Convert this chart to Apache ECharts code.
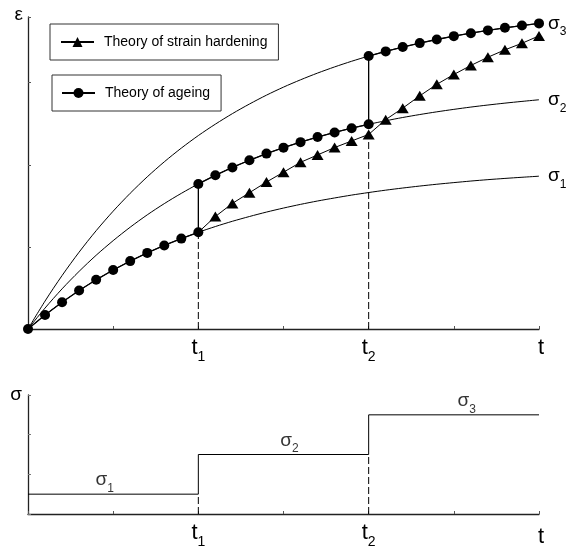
<!DOCTYPE html>
<html>
<head>
<meta charset="utf-8">
<script src="https://cdn.jsdelivr.net/npm/echarts@6/dist/echarts.min.js"></script>
<style>
  html, body { margin: 0; padding: 0; background: #fff; }
  #chart { width: 570px; height: 546px; }
</style>
</head>
<body>
<div id="chart"></div>
<script>
// Time samples along the t axis (t1 = 2, t2 = 4, end = 6)
const times = [0.0, 0.2, 0.4, 0.6, 0.8, 1.0, 1.2, 1.4, 1.6, 1.8, 2.0,
               2.2, 2.4, 2.6, 2.8, 3.0, 3.2, 3.4, 3.6, 3.8, 4.0,
               4.2, 4.4, 4.6, 4.8, 5.0, 5.2, 5.4, 5.6, 5.8, 6.0];

// Creep curves ε(t) at constant stress σ1, σ2, σ3
const creepSigma1 = [0, 0.170, 0.326, 0.468, 0.599, 0.718, 0.827, 0.927, 1.018, 1.101, 1.178,
                     1.248, 1.312, 1.370, 1.424, 1.473, 1.518, 1.559, 1.596, 1.631, 1.662,
                     1.691, 1.717, 1.741, 1.763, 1.783, 1.802, 1.819, 1.834, 1.848, 1.861];
const creepSigma2 = [0, 0.255, 0.489, 0.702, 0.898, 1.076, 1.240, 1.390, 1.527, 1.652, 1.767,
                     1.872, 1.968, 2.055, 2.136, 2.209, 2.276, 2.338, 2.394, 2.446, 2.493,
                     2.536, 2.576, 2.612, 2.645, 2.675, 2.703, 2.728, 2.751, 2.772, 2.792];
const creepSigma3 = [0, 0.340, 0.651, 0.936, 1.197, 1.435, 1.653, 1.853, 2.036, 2.203, 2.356,
                     2.495, 2.623, 2.740, 2.848, 2.946, 3.035, 3.117, 3.192, 3.261, 3.324,
                     3.381, 3.434, 3.482, 3.526, 3.567, 3.603, 3.637, 3.668, 3.696, 3.722];

// Strain-hardening prediction from t1 to the end (t = 2.0 ... 6.0)
const strainHardening = [1.178, 1.37, 1.53, 1.66, 1.79, 1.91, 2.03, 2.12, 2.21, 2.29, 2.37,
                         2.55, 2.69, 2.84, 2.98, 3.10, 3.21, 3.31, 3.40, 3.48, 3.57];

// Stepwise stress history
const t1 = 2.0, t2 = 4.0;
const stepTimes = [0, 2, 4, 6];
const stressLevels = [1, 3, 5, 5];

// Tick labels of the t axes
const tickMain = ['', '', 't', '', 't', '', 't'];
const tickSub  = ['', '', '1', '', '2', '', ''];

const FONT = 'Liberation Sans, Arial, sans-serif';
const INK = '#000';

const i1 = times.indexOf(t1);
const i2 = times.indexOf(t2);

// Ageing theory: follow each constant-stress curve, jumping at t1 and t2
const ageing = [];
for (let i = 0; i <= i1; i++) ageing.push([times[i], creepSigma1[i]]);
for (let i = i1; i <= i2; i++) ageing.push([times[i], creepSigma2[i]]);
for (let i = i2; i < times.length; i++) ageing.push([times[i], creepSigma3[i]]);

const hardening = strainHardening.map((v, k) =>
  k === 0 ? { value: [times[i1 + k], v], symbol: 'none' } : [times[i1 + k], v]);

const pairs = arr => times.map((t, i) => [t, arr[i]]);

const sigmaRich = {
  a: { fontSize: 19, fontFamily: FONT, color: INK, lineHeight: 19, verticalAlign: 'top' },
  b: { fontSize: 12, fontFamily: FONT, color: INK, lineHeight: 12, verticalAlign: 'top', padding: [12, 0, 0, 0] }
};

function curveSeries(arr, idx) {
  return {
    type: 'line', xAxisIndex: 0, yAxisIndex: 0,
    data: pairs(arr), smooth: 0.3, symbol: 'none', silent: true, z: 2,
    lineStyle: { color: INK, width: 1 },
    endLabel: { show: true, distance: 9, formatter: '{a|σ}{b|' + idx + '}', rich: sigmaRich }
  };
}

function tAxis(gridIndex) {
  return {
    type: 'value', gridIndex, min: 0, max: 6, interval: 1,
    axisLine: { show: true, onZero: false, lineStyle: { color: '#222', width: 1.3 } },
    axisTick: { show: true, inside: true, length: 3, lineStyle: { color: '#555', width: 1 } },
    splitLine: { show: false },
    axisLabel: {
      show: true, margin: 8,
      formatter: v => {
        const k = Math.round(v);
        if (!tickMain[k]) return '';
        return tickSub[k] ? '{t|' + tickMain[k] + '}{s|' + tickSub[k] + '}' : '{e|' + tickMain[k] + '}';
      },
      rich: {
        t: { fontSize: 22, fontFamily: FONT, color: INK, lineHeight: 22, verticalAlign: 'top' },
        s: { fontSize: 14, fontFamily: FONT, color: INK, lineHeight: 14, verticalAlign: 'top', padding: [13, 0, 0, 0] },
        e: { fontSize: 22, fontFamily: FONT, color: INK, lineHeight: 22, verticalAlign: 'top', padding: [gridIndex === 1 ? 4 : 0, 0, 0, 4] }
      }
    }
  };
}

const dashed = { color: INK, width: 1, type: [7, 3] };

const option = {
  animation: false,
  backgroundColor: '#fff',
  grid: [
    { left: 28, right: 31, top: 17, height: 312, outerBoundsMode: 'none' },
    { left: 28, right: 31, top: 395, height: 119, outerBoundsMode: 'none' }
  ],
  legend: [
    {
      data: ['Theory of strain hardening'], left: 50, top: 24,
      borderColor: '#333', borderWidth: 1, padding: [11, 11, 11, 10],
      itemWidth: 33, itemHeight: 12.5, selectedMode: false,
      textStyle: { fontSize: 14, fontFamily: FONT, color: INK, padding: [0, 0, 0, 5] }
    },
    {
      data: ['Theory of ageing'], left: 52, top: 75,
      borderColor: '#333', borderWidth: 1, padding: [11, 11, 11, 9],
      itemWidth: 33, itemHeight: 12.5, selectedMode: false,
      textStyle: { fontSize: 14, fontFamily: FONT, color: INK, padding: [0, 0, 0, 5] }
    }
  ],
  xAxis: [tAxis(0), tAxis(1)],
  yAxis: [
    {
      type: 'value', gridIndex: 0, min: 0, max: 3.8, interval: 1,
      name: 'ε', nameLocation: 'end', nameGap: 2,
      nameTextStyle: { fontSize: 19, fontFamily: FONT, color: INK, align: 'right', verticalAlign: 'middle', padding: [0, 5, 0, 0] },
      axisLine: { show: true, onZero: false, lineStyle: { color: '#222', width: 1.3 } },
      axisTick: { show: true, inside: true, length: 3, lineStyle: { color: '#555', width: 1 } },
      axisLabel: { show: false }, splitLine: { show: false }
    },
    {
      type: 'value', gridIndex: 1, min: 0, max: 6, interval: 2,
      name: 'σ', nameLocation: 'end', nameGap: 0,
      nameTextStyle: { fontSize: 19, fontFamily: FONT, color: INK, align: 'right', verticalAlign: 'middle', padding: [0, 6, 0, 0] },
      axisLine: { show: true, onZero: false, lineStyle: { color: '#222', width: 1.3 } },
      axisTick: { show: true, inside: true, length: 3, lineStyle: { color: '#777', width: 1 } },
      axisLabel: { show: false }, splitLine: { show: false }
    }
  ],
  series: [
    curveSeries(creepSigma1, 1),
    curveSeries(creepSigma2, 2),
    curveSeries(creepSigma3, 3),
    // dashed guides at t1 and t2 (upper plot)
    { type: 'line', xAxisIndex: 0, yAxisIndex: 0, symbol: 'none', silent: true, z: 1,
      data: [[t1, 0], [t1, creepSigma1[i1]]], lineStyle: dashed },
    { type: 'line', xAxisIndex: 0, yAxisIndex: 0, symbol: 'none', silent: true, z: 1,
      data: [[t2, 0], [t2, strainHardening[i2 - i1]]], lineStyle: dashed },
    {
      name: 'Theory of strain hardening', type: 'line', xAxisIndex: 0, yAxisIndex: 0,
      data: hardening, symbol: 'triangle', symbolSize: [12, 10], silent: true, z: 3,
      lineStyle: { color: INK, width: 1 }, itemStyle: { color: INK }
    },
    {
      name: 'Theory of ageing', type: 'line', xAxisIndex: 0, yAxisIndex: 0,
      data: ageing, symbol: 'circle', symbolSize: 10, silent: true, z: 4,
      lineStyle: { color: INK, width: 1.3 }, itemStyle: { color: INK }
    },
    // stress history (lower plot)
    { type: 'line', xAxisIndex: 1, yAxisIndex: 1, step: 'end', symbol: 'none', silent: true,
      data: stepTimes.map((t, i) => [t, stressLevels[i]]),
      lineStyle: { color: INK, width: 1 } },
    { type: 'line', xAxisIndex: 1, yAxisIndex: 1, symbol: 'none', silent: true,
      data: [[t1, 0], [t1, stressLevels[0]]], lineStyle: dashed },
    { type: 'line', xAxisIndex: 1, yAxisIndex: 1, symbol: 'none', silent: true,
      data: [[t2, 0], [t2, stressLevels[1]]], lineStyle: dashed },
    // σ labels above each stress step
    { type: 'scatter', xAxisIndex: 1, yAxisIndex: 1, symbolSize: 1, silent: true,
      itemStyle: { color: 'rgba(0,0,0,0)' },
      data: [[0.9, stressLevels[0]], [3.07, stressLevels[1]], [5.15, stressLevels[2]]],
      label: { show: true, position: 'top', distance: 4, color: INK,
        formatter: p => '{a|σ}{b|' + (p.dataIndex + 1) + '}', rich: sigmaRich } }
  ]
};

echarts.init(document.getElementById('chart')).setOption(option);
</script>
</body>
</html>
